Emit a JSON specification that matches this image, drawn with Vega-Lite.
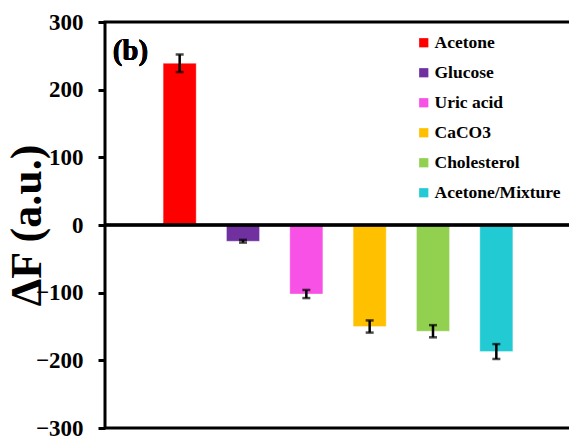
{
  "$schema": "https://vega.github.io/schema/vega-lite/v6.json",
  "autosize": "none",
  "padding": {"left": 105, "top": 22, "right": 0, "bottom": 8},
  "width": 466,
  "height": 406,
  "background": "white",
  "config": {
    "font": "Times New Roman, Liberation Serif, serif",
    "view": {"stroke": "black", "strokeWidth": 3},
    "axis": {
      "labelFont": "Times New Roman, Liberation Serif, serif",
      "titleFont": "Times New Roman, Liberation Serif, serif",
      "labelFontWeight": "bold",
      "titleFontWeight": "bold"
    },
    "legend": {
      "labelFont": "Times New Roman, Liberation Serif, serif",
      "labelFontWeight": "bold"
    },
    "text": {"font": "Times New Roman, Liberation Serif, serif"}
  },
  "data": {
    "values": [
      {"sample": "Acetone", "value": 239, "err": 13},
      {"sample": "Glucose", "value": -24, "err": 2},
      {"sample": "Uric acid", "value": -102, "err": 6},
      {"sample": "CaCO3", "value": -150, "err": 9},
      {"sample": "Cholesterol", "value": -157, "err": 9},
      {"sample": "Acetone/Mixture", "value": -187, "err": 11}
    ]
  },
  "layer": [
    {
      "mark": {"type": "bar", "stroke": "white", "strokeWidth": 0.6, "strokeOpacity": 0.6},
      "encoding": {
        "x": {
          "field": "sample", "type": "nominal", "sort": null,
          "scale": {"paddingInner": 0.478, "paddingOuter": 0.918},
          "axis": null
        },
        "y": {
          "field": "value", "type": "quantitative",
          "title": "ΔF (a.u.)",
          "scale": {"domain": [-300, 300], "nice": false},
          "axis": {
            "values": [-300, -200, -100, 0, 100, 200, 300],
            "grid": false,
            "domain": false,
            "ticks": true,
            "tickColor": "black",
            "tickWidth": 3,
            "tickSize": 7,
            "labelFontSize": 23,
            "labelColor": "black",
            "labelPadding": 15,
            "titleFontSize": 44,
            "titleColor": "black",
            "titleAngle": -90,
            "titleX": -78,
            "titleY": 203,
            "titleAlign": "center",
            "titleBaseline": "middle"
          }
        },
        "color": {
          "field": "sample", "type": "nominal", "sort": null,
          "scale": {
            "domain": ["Acetone", "Glucose", "Uric acid", "CaCO3", "Cholesterol", "Acetone/Mixture"],
            "range": ["#FF0000", "#7030A0", "#F751E5", "#FFC000", "#92D050", "#22CBD4"]
          },
          "legend": {
            "orient": "none",
            "legendX": 310,
            "legendY": 12,
            "title": null,
            "symbolType": "square",
            "symbolSize": 85,
            "symbolStrokeWidth": 0,
            "labelFontSize": 17.5,
            "labelColor": "black",
            "labelOffset": 2,
            "rowPadding": 11
          }
        }
      }
    },
    {
      "mark": {"type": "rule", "color": "black", "strokeWidth": 2.5},
      "encoding": {"y": {"datum": 0}}
    },
    {
      "mark": {"type": "errorbar", "ticks": {"size": 8, "thickness": 2.5, "color": "black"}, "rule": {"strokeWidth": 2.5, "color": "black"}},
      "encoding": {
        "x": {"field": "sample", "type": "nominal", "sort": null},
        "y": {"field": "value", "type": "quantitative", "title": "ΔF (a.u.)"},
        "yError": {"field": "err"}
      }
    },
    {
      "mark": {"type": "text", "text": "(b)", "fontWeight": "bold", "fontSize": 29, "align": "left", "baseline": "middle", "dx": -67, "color": "black"},
      "encoding": {
        "x": {"datum": "Acetone", "type": "nominal"},
        "y": {"datum": 257}
      }
    }
  ]
}
